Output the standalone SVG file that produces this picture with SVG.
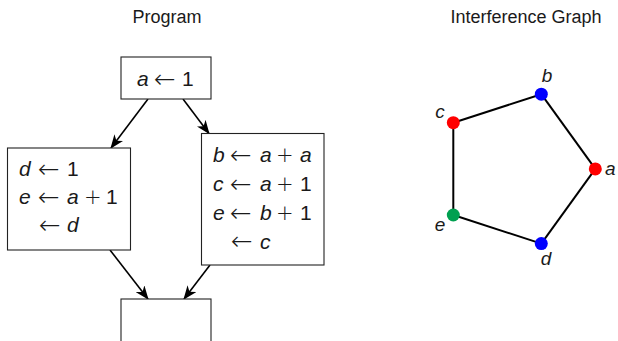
<svg xmlns="http://www.w3.org/2000/svg" width="618" height="341" viewBox="0 0 618 341">
  <style>
    .title { font-family: "Liberation Sans", "DejaVu Sans", sans-serif; font-size: 18px; fill: #1a1a1a; }
    .math { font-family: "Liberation Sans", "DejaVu Sans", sans-serif; font-size: 21px; fill: #1a1a1a; }
    .v { font-style: italic; }
    .op { font-family: "DejaVu Sans", sans-serif; font-size: 21px; font-weight: 200; }
    .arr { font-family: "DejaVu Sans", sans-serif; font-size: 26px; font-weight: 200; }
    .box { fill: #ffffff; stroke: #222222; stroke-width: 1.1; }
    .flow { stroke: #000000; stroke-width: 1.6; fill: none; marker-end: url(#stealth); }
    .edge { stroke: #000000; stroke-width: 2; fill: none; }
    .lbl { font-family: "Liberation Sans", "DejaVu Sans", sans-serif; font-size: 19px; font-style: italic; fill: #1a1a1a; }
  </style>
  <defs>
    <marker id="stealth" viewBox="0 0 14 11" refX="13" refY="5.5" markerWidth="14" markerHeight="11" markerUnits="userSpaceOnUse" orient="auto">
      <path d="M0,0 L14,5.5 L0,11 L4,5.5 Z" fill="#000000"/>
    </marker>
  </defs>

  <rect width="618" height="341" fill="#ffffff"/>

  <text class="title" x="167" y="23" text-anchor="middle">Program</text>
  <text class="title" x="526" y="23" text-anchor="middle">Interference Graph</text>

  <g id="connectors">
    <line class="flow" x1="148" y1="99" x2="111" y2="148"/>
    <line class="flow" x1="183" y1="99" x2="209" y2="133.5"/>
    <line class="flow" x1="110" y1="250" x2="148" y2="299"/>
    <line class="flow" x1="210" y1="265" x2="184" y2="299"/>
  </g>

  <g id="block-entry">
    <rect class="box" x="121" y="57" width="90" height="42"/>
    <text class="math" y="86"><tspan class="v" x="137">a</tspan><tspan class="arr" x="154" dy="1.5">←</tspan><tspan x="182" dy="-1.5">1</tspan></text>
  </g>

  <g id="block-left">
    <rect class="box" x="7.5" y="148" width="123" height="102"/>
    <text class="math" y="176"><tspan class="v" x="19">d</tspan><tspan class="arr" x="38" dy="1.5">←</tspan><tspan x="67" dy="-1.5">1</tspan></text>
    <text class="math" y="204"><tspan class="v" x="19">e</tspan><tspan class="arr" x="38" dy="1.5">←</tspan><tspan class="v" x="67" dy="-1.5">a</tspan><tspan class="op" x="84">+</tspan><tspan x="106">1</tspan></text>
    <text class="math" y="232"><tspan class="arr" x="39" dy="1.5">←</tspan><tspan class="v" x="67" dy="-1.5">d</tspan></text>
  </g>

  <g id="block-right">
    <rect class="box" x="201.5" y="133.5" width="122.5" height="131.5"/>
    <text class="math" y="162"><tspan class="v" x="213">b</tspan><tspan class="arr" x="230" dy="1.5">←</tspan><tspan class="v" x="260" dy="-1.5">a</tspan><tspan class="op" x="276">+</tspan><tspan class="v" x="300">a</tspan></text>
    <text class="math" y="191"><tspan class="v" x="213">c</tspan><tspan class="arr" x="230" dy="1.5">←</tspan><tspan class="v" x="260" dy="-1.5">a</tspan><tspan class="op" x="276">+</tspan><tspan x="300">1</tspan></text>
    <text class="math" y="220"><tspan class="v" x="213">e</tspan><tspan class="arr" x="230" dy="1.5">←</tspan><tspan class="v" x="260" dy="-1.5">b</tspan><tspan class="op" x="276">+</tspan><tspan x="300">1</tspan></text>
    <text class="math" y="248.5"><tspan class="arr" x="231" dy="1.5">←</tspan><tspan class="v" x="260" dy="-1.5">c</tspan></text>
  </g>

  <g id="block-exit">
    <rect class="box" x="121" y="299" width="90" height="60"/>
  </g>

  <g id="graph-edges">
    <line class="edge" x1="541.3" y1="94.2" x2="595.3" y2="168.9"/>
    <line class="edge" x1="541.3" y1="94.2" x2="453.3" y2="122.7"/>
    <line class="edge" x1="453.3" y1="122.7" x2="453.3" y2="215"/>
    <line class="edge" x1="453.3" y1="215" x2="541.3" y2="243.6"/>
    <line class="edge" x1="541.3" y1="243.6" x2="595.3" y2="168.9"/>
  </g>

  <g id="node-a">
    <circle cx="595.3" cy="168.9" r="6.5" fill="#ff0000"/>
    <text class="lbl" x="605" y="175">a</text>
  </g>
  <g id="node-b">
    <circle cx="541.3" cy="94.2" r="6.5" fill="#0000ff"/>
    <text class="lbl" x="547" y="82" text-anchor="middle">b</text>
  </g>
  <g id="node-c">
    <circle cx="453.3" cy="122.7" r="6.5" fill="#ff0000"/>
    <text class="lbl" x="440" y="118" text-anchor="middle">c</text>
  </g>
  <g id="node-d">
    <circle cx="541.3" cy="243.6" r="6.5" fill="#0000ff"/>
    <text class="lbl" x="546" y="265" text-anchor="middle">d</text>
  </g>
  <g id="node-e">
    <circle cx="453.3" cy="215" r="6.5" fill="#00a050"/>
    <text class="lbl" x="440" y="231" text-anchor="middle">e</text>
  </g>
</svg>
